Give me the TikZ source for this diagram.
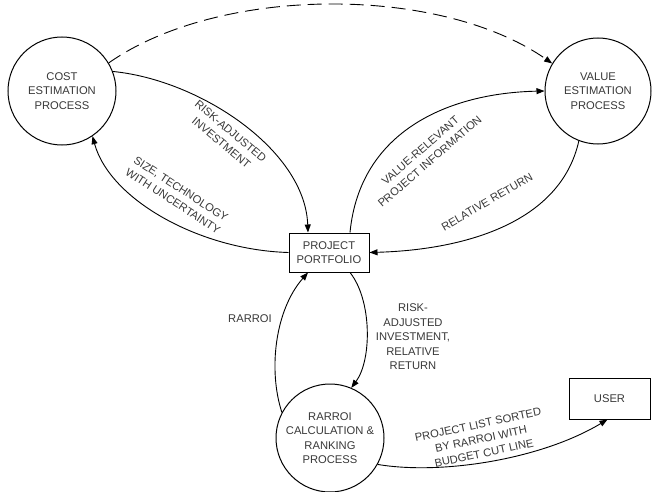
\documentclass[tikz,border=0pt]{standalone}
\usepackage{fontspec}
\setmainfont{Liberation Sans}
\usetikzlibrary{arrows.meta}
\begin{document}
\begin{tikzpicture}[x=1pt,y=-1pt,
  every node/.style={font=\fontsize{11.2}{14.5}\selectfont, text=black!78},
  proc/.style={circle, draw, line width=1pt, minimum size=108pt, inner sep=0pt, align=center},
  ent/.style={rectangle, draw, line width=1pt, align=center, inner sep=0pt},
  flow/.style={line width=0.9pt, -{Triangle[length=8pt,width=6pt]}},
  lbl/.style={align=center, inner sep=1pt}
]
\useasboundingbox (0,0) rectangle (658,492);
\node[proc] (cost) at (62,91) {COST\\ESTIMATION\\PROCESS};
\node[proc, minimum size=106pt] (value) at (598,91) {VALUE\\ESTIMATION\\PROCESS};
\node[ent, minimum width=80pt, minimum height=39pt] (port) at (329,252.5) {PROJECT\\PORTFOLIO};
\node[proc] (rank) at (330,438) {RARROI\\CALCULATION \&\\RANKING\\PROCESS};
\node[ent, minimum width=81pt, minimum height=41pt] (user) at (609.5,398.5) {USER};

\draw[flow, dash pattern=on 14pt off 7pt] (cost.31) .. controls (220,-15) and (440,-15) .. (value.149);
\draw[flow] (cost.21) .. controls (200,80) and (305,150) .. ([xshift=-21pt]port.north);
\draw[flow] (port.west) .. controls (200,250) and (110,200) .. (cost.-56);
\draw[flow] ([xshift=21pt]port.north) .. controls (360,130) and (450,93) .. (value.180);
\draw[flow] (value.249) .. controls (560,225) and (460,250) .. (port.east);
\draw[flow] ([xshift=21pt]port.south) .. controls (372,300) and (372,360) .. (rank.67);
\draw[flow] (rank.152) .. controls (268,370) and (275,310) .. ([xshift=-21pt]port.south);
\draw[flow] (rank.-29) .. controls (440,475) and (540,460) .. ([xshift=-2pt]user.south);

\node[lbl, rotate=-40] (l1) at (226,137) {RISK-ADJUSTED\\INVESTMENT};
\node[lbl, rotate=-33] (l2) at (177,195) {SIZE, TECHNOLOGY\\WITH UNCERTAINTY};
\node[lbl, rotate=41] (l3) at (425,156) {VALUE-RELEVANT\\PROJECT INFORMATION};
\node[lbl, rotate=30] (l4) at (487,202) {RELATIVE RETURN};
\node[lbl] (l5) at (413,337) {RISK-\\ADJUSTED\\INVESTMENT,\\RELATIVE\\RETURN};
\node[lbl] (l6) at (250,319) {RARROI};
\node[lbl, rotate=12] (l7) at (481,439) {PROJECT LIST SORTED\\BY RARROI WITH\\BUDGET CUT LINE};
\end{tikzpicture}
\end{document}
